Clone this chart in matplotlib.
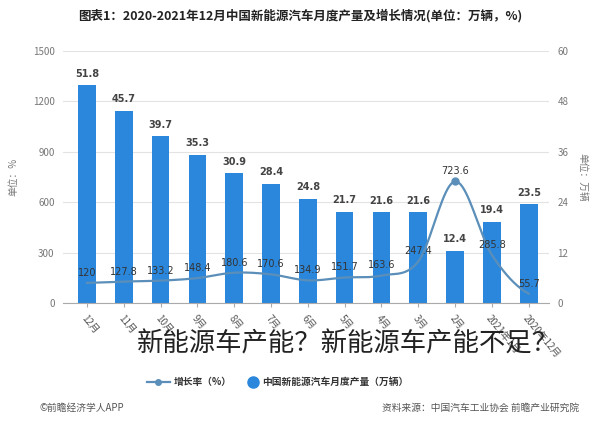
import matplotlib
matplotlib.use("Agg")
import matplotlib.pyplot as plt
import numpy as np

plt.rcParams['font.family'] = ['Noto Sans CJK SC', 'DejaVu Sans']

# data (order as it appears in the picture, left to right)
months = ['12月', '11月', '10月', '9月', '8月', '7月', '6月', '5月', '4月', '3月',
          '2月', '2021年1月', '2020年12月']
output = [51.8, 45.7, 39.7, 35.3, 30.9, 28.4, 24.8, 21.7, 21.6, 21.6, 12.4, 19.4, 23.5]
growth = [120, 127.8, 133.2, 148.4, 180.6, 170.6, 134.9, 151.7, 163.6, 247.4, 723.6, 285.8, 55.7]
left_ticks = [0, 300, 600, 900, 1200, 1500]
right_ticks = [0, 12, 24, 36, 48, 60]

bar_color = '#2b87dc'
line_color = '#5b8fb9'


def smooth(x, y, n=20):
    # catmull-rom curve through the points, only for drawing
    x = np.asarray(x, float)
    y = np.asarray(y, float)
    px = np.concatenate([[2 * x[0] - x[1]], x, [2 * x[-1] - x[-2]]])
    py = np.concatenate([[y[0]], y, [y[-1]]])
    xs, ys = [], []
    t = np.linspace(0, 1, n, endpoint=False)
    for i in range(1, len(px) - 2):
        for p, out in ((px, xs), (py, ys)):
            p0, p1, p2, p3 = p[i - 1], p[i], p[i + 1], p[i + 2]
            out.extend(0.5 * (2 * p1 + (-p0 + p2) * t + (2 * p0 - 5 * p1 + 4 * p2 - p3) * t ** 2
                              + (-p0 + 3 * p1 - 3 * p2 + p3) * t ** 3))
    xs.append(x[-1])
    ys.append(y[-1])
    return np.array(xs), np.array(ys)


fig = plt.figure(figsize=(6, 4.25), dpi=100)
ax = fig.add_axes([0.105, 0.287, 0.81, 0.593])
ax2 = ax.twinx()

x = np.arange(len(months))

# bars on the right axis
ax2.bar(x, output, width=0.48, color=bar_color, zorder=2)
for xi, v in zip(x, output):
    ax2.text(xi, v + 1.6, f'{v}', ha='center', va='bottom', fontsize=7,
             color='#444444', fontweight='bold', family='DejaVu Sans')

# growth line on the left axis
sx, sy = smooth(x, growth)
ax.plot(sx, sy, color=line_color, lw=1.6, zorder=5)
peak = int(np.argmax(growth))
ax.plot(x[peak], growth[peak], 'o', color=line_color, ms=5, zorder=6)
for xi, v in zip(x, growth):
    ax.text(xi, v + 30, f'{v:g}', ha='center', va='bottom', fontsize=7,
            color='#333333', family='DejaVu Sans', zorder=7)

ax.set_zorder(ax2.get_zorder() + 1)
ax.patch.set_visible(False)

ax.set_ylim(0, 1500)
ax2.set_ylim(0, 60)
ax.set_yticks(left_ticks)
ax2.set_yticks(right_ticks)
ax.set_xlim(-0.65, len(months) - 0.45)
ax2.grid(axis='y', color='#e3e3e3', lw=0.8, zorder=0)

for a in (ax, ax2):
    for s in a.spines.values():
        s.set_visible(False)
    a.tick_params(axis='y', length=0, labelsize=7, colors='#777777', pad=6)
ax.spines['bottom'].set_visible(True)
ax.spines['bottom'].set_color('#aaaaaa')

ax.set_xticks(x)
ax.set_xticklabels(months, rotation=-50, ha='left', va='top', rotation_mode='anchor',
                   fontsize=7, color='#555555')
ax.tick_params(axis='x', length=3, color='#aaaaaa', pad=4)

ax.set_ylabel('单位：%', fontsize=7, color='#777777', labelpad=10)
ax2.set_ylabel('单位：万辆', fontsize=7, color='#777777', rotation=270, labelpad=14)

fig.text(0.5, 0.963, '图表1：2020-2021年12月中国新能源汽车月度产量及增长情况(单位：万辆，%)',
         ha='center', va='center', fontsize=9, color='#222222', fontweight='bold')

# legend
ly = 0.101
fig.add_artist(plt.Line2D([0.245, 0.264, 0.283], [ly, ly, ly], color=line_color, lw=1.6,
                          marker='o', markevery=[1], ms=4, transform=fig.transFigure))
fig.text(0.29, ly, '增长率（%）', ha='left', va='center', fontsize=7,
         color='#333333', fontweight='bold')
fig.add_artist(plt.Line2D([0.422], [ly], ls='none', marker='o', ms=8, color=bar_color,
                          transform=fig.transFigure))
fig.text(0.437, ly, '中国新能源汽车月度产量（万辆）', ha='left', va='center', fontsize=7,
         color='#333333', fontweight='bold')

fig.text(0.065, 0.04, '©前瞻经济学人APP', ha='left', va='center', fontsize=7, color='#555555')
fig.text(0.965, 0.04, '资料来源：中国汽车工业协会 前瞻产业研究院', ha='right', va='center',
         fontsize=7, color='#555555')

fig.text(0.228, 0.19, '新能源车产能？新能源车产能不足？', ha='left', va='center',
         fontsize=19, color='#222222', fontweight='light')

fig.savefig('out.png', dpi=100)
